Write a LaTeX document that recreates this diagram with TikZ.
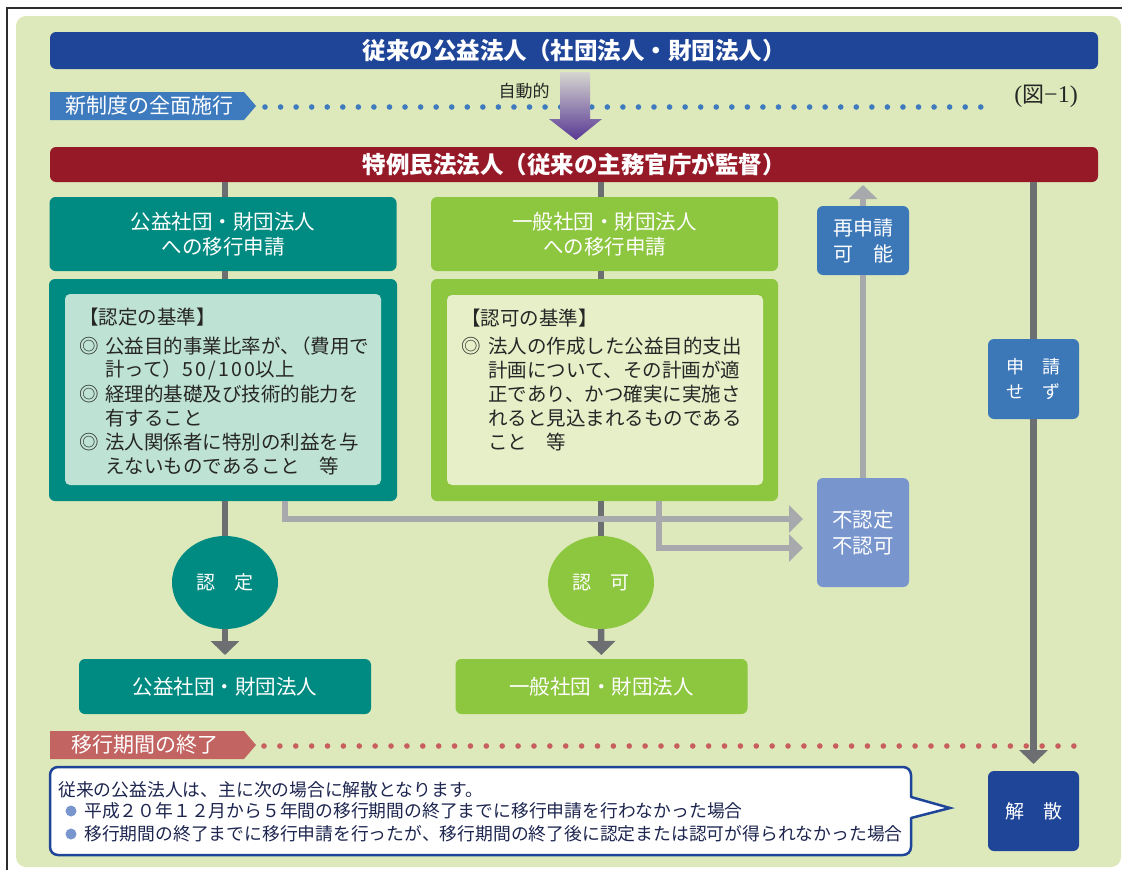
\documentclass[tikz,border=0pt]{standalone}
\usepackage{fontspec}
\newfontfamily\jp{Noto Sans CJK JP}
\newfontfamily\lser{Liberation Serif}
\usetikzlibrary{shapes.geometric,arrows.meta}
\definecolor{bggreen}{RGB}{221,233,186}
\definecolor{framec}{RGB}{45,45,45}
\definecolor{cblue}{RGB}{31,69,153}
\definecolor{cred}{RGB}{150,25,40}
\definecolor{cteal}{RGB}{0,139,130}
\definecolor{ctealL}{RGB}{190,226,211}
\definecolor{cgreen}{RGB}{141,198,63}
\definecolor{cgreenL}{RGB}{230,239,200}
\definecolor{cmid}{RGB}{60,120,184}
\definecolor{clight}{RGB}{120,150,205}
\definecolor{ctag}{RGB}{62,123,190}
\definecolor{ctagr}{RGB}{194,100,98}
\definecolor{cdotr}{RGB}{200,95,95}
\definecolor{dkgray}{RGB}{109,110,113}
\definecolor{ltgray}{RGB}{167,169,172}
\definecolor{txtdark}{RGB}{38,38,38}
\definecolor{txtnavy}{RGB}{30,38,80}
\definecolor{arrtop}{RGB}{214,214,208}
\definecolor{arrbot}{RGB}{88,56,148}
\newcommand{\fwd}[1]{{\addfontfeatures{RawFeature=+fwid}#1}}
\newcommand{\lsp}[1]{{\addfontfeatures{LetterSpace=12}#1}}
\begin{document}
\begin{tikzpicture}[x=1pt,y=-1pt,
  bar/.style={rounded corners=6pt, minimum width=1048pt, inner sep=0pt, outer sep=0pt, text=white, font=\jp\bfseries\fontsize{23.5}{27}\selectfont},
  hdr/.style={rounded corners=6pt, minimum width=347pt, minimum height=74pt, inner sep=0pt, outer sep=0pt, text=white, align=center, font=\jp\fontsize{20.5}{25}\selectfont},
  panel/.style={rounded corners=6pt, inner sep=0pt, outer sep=0pt},
  crit/.style={anchor=west, inner sep=0pt, text=txtdark, font=\jp\fontsize{19.5}{24}\selectfont},
  ell/.style={ellipse, minimum width=106pt, minimum height=93pt, inner sep=0pt, outer sep=0pt, text=white, font=\jp\fontsize{19}{23}\selectfont},
  fin/.style={rounded corners=6pt, minimum width=292pt, minimum height=55pt, inner sep=0pt, outer sep=0pt, text=white, font=\jp\fontsize{20.5}{24}\selectfont},
  side/.style={rounded corners=6pt, inner sep=0pt, outer sep=0pt, text=white, align=center},
  tagtxt/.style={inner sep=0pt, text=white, font=\jp\fontsize{21}{24}\selectfont},
  cal/.style={anchor=west, inner sep=0pt, text=txtnavy, font=\jp\fontsize{17.8}{22}\selectfont},
  dk/.style={draw=dkgray, line width=6.5pt},
  lt/.style={draw=ltgray, line width=6pt},
  headV/.style={-{Triangle[width=28pt,length=14pt]}},
  headH/.style={-{Triangle[width=27pt,length=14pt]}},
]
\useasboundingbox (0,0) rectangle (1122,870);
\fill[white] (0,0) rectangle (1122,870);
\fill[bggreen, rounded corners=10pt] (16,16) rectangle (1121,867);
\draw[framec, line width=2pt] (7,870) -- (7,8) -- (1122,8);

% dotted lines
\foreach \i in {0,...,46} \fill[ctag] ({265+\i*15.56},107) circle (2.8);
\foreach \i in {0,...,51} \fill[cdotr] ({264+\i*15.88},746) circle (2.8);

% tags
\fill[ctag] (50,92) -- (244,92) -- (256,106) -- (244,120) -- (50,120) -- cycle;
\node[tagtxt] (tagA) at (149,106) {新制度の全面施行};
\fill[ctagr] (50,731) -- (244,731) -- (256,745) -- (244,759) -- (50,759) -- cycle;
\node[tagtxt] (tagB) at (145,745) {移行期間の終了};

% bars
\node[bar, fill=cblue, minimum height=37pt] (title) at (574,50.5) {従来の公益法人（社団法人・財団法人）};
\node[bar, fill=cred, minimum height=35pt] (red) at (574,164.5) {特例民法法人（従来の主務官庁が監督）};

% automatic arrow
\shade[top color=arrtop, bottom color=arrbot] (560,72) -- (590,72) -- (590,119) -- (602,119) -- (576,140) -- (549,119) -- (560,119) -- cycle;
\node[inner sep=0pt, text=txtdark, font=\jp\fontsize{17}{20}\selectfont] (auto) at (524,91) {自動的};
\node[inner sep=0pt, text=txtdark, font=\lser\fontsize{24}{27}\selectfont] (fig) at (1046,96) {(\jp\fontsize{22}{26}\selectfont 図\lser\fontsize{24}{27}\selectfont −1)};

% left column
\node[hdr, fill=cteal] (A1) at (223,234) {公益社団・財団法人\\への移行申請};
\node[panel, fill=cteal, minimum width=348pt, minimum height=222pt] (A2) at (223,390) {};
\node[panel, fill=ctealL, rounded corners=5pt, minimum width=316pt, minimum height=191pt] (A2i) at (223,389.5) {};
\node[crit] (ka0) at (79,317) {【認定の基準】};
\node[crit] (ka1m) at (79,346) {◎};
\node[crit] (ka1) at (105,346) {公益目的事業比率が、\kern-0.45em（費用で};
\node[crit] (ka2) at (105,370) {計って）\lsp{50/100}以上};
\node[crit] (ka3m) at (79,394) {◎};
\node[crit] (ka3) at (105,394) {経理的基礎及び技術的能力を};
\node[crit] (ka4) at (105,418) {有すること};
\node[crit] (ka5m) at (79,442) {◎};
\node[crit] (ka5) at (105,442) {法人関係者に特別の利益を与};
\node[crit] (ka6) at (105,466) {えないものであること　等};
\node[ell, fill=cteal] (A3) at (225,582.5) {認　定};
\node[fin, fill=cteal] (A4) at (225,686.5) {公益社団・財団法人};

% middle column
\node[hdr, fill=cgreen] (B1) at (604.5,234) {一般社団・財団法人\\への移行申請};
\node[panel, fill=cgreen, minimum width=347pt, minimum height=222pt] (B2) at (604.5,390) {};
\node[panel, fill=cgreenL, rounded corners=5pt, minimum width=316pt, minimum height=190pt] (B2i) at (605,390) {};
\node[crit] (kb0) at (461,318) {【認可の基準】};
\node[crit] (kb1m) at (461,346) {◎};
\node[crit] (kb1) at (488,346) {法人の作成した公益目的支出};
\node[crit] (kb2) at (488,370) {計画について、その計画が適};
\node[crit] (kb3) at (488,394) {正であり、かつ確実に実施さ};
\node[crit] (kb4) at (488,418) {れると見込まれるものである};
\node[crit] (kb5) at (488,442) {こと　等};
\node[ell, fill=cgreen] (B3) at (601,582.5) {認　可};
\node[fin, fill=cgreen] (B4) at (601.5,686.5) {一般社団・財団法人};

% right column
\node[side, fill=cmid, minimum width=92pt, minimum height=69pt, font=\jp\fontsize{20}{26}\selectfont] (sai) at (863,240.5) {再申請\\可　能};
\node[side, fill=clight, minimum width=92pt, minimum height=109pt, font=\jp\fontsize{20.5}{26}\selectfont] (fu) at (863,532.5) {不認定\\不認可};
\node[side, fill=cmid, minimum width=91pt, minimum height=80pt, font=\jp\fontsize{18}{25}\selectfont] (shin) at (1033.5,379) {申　請\\せ　ず};
\node[side, fill=cblue, minimum width=91pt, minimum height=80pt, font=\jp\fontsize{19}{24}\selectfont] (kai) at (1033.5,811) {解　散};

% dark connectors
\draw[dk] (A3.north |- red.south) -- (A3.north |- A1.north);
\draw[dk] (A3.north |- A1.south) -- (A3.north |- A2.north);
\draw[dk] (A3.north |- A2.south) -- (A3.north);
\draw[dk, headV, shorten >=4pt] (A3.south) -- (A4.north);
\draw[dk] (B3.north |- red.south) -- (B3.north |- B1.north);
\draw[dk] (B3.north |- B1.south) -- (B3.north |- B2.north);
\draw[dk] (B3.north |- B2.south) -- (B3.north);
\draw[dk, headV, shorten >=4pt] (B3.south) -- (B4.north);
\draw[dk] (shin.north |- red.south) -- (shin.north);
\draw[dk, headV, shorten >=7pt] (shin.south) -- (kai.north);

% light connectors
\draw[lt] (fu.north) -- (sai.south);
\draw[lt, headV, shorten >=3pt] (sai.north) -- (sai.north |- red.south);
\draw[lt, headH, shorten >=14pt] ([xshift=62pt]A2.south) |- ([yshift=13.5pt]fu.west);
\draw[lt, headH, shorten >=14pt] ([xshift=54.5pt]B2.south) |- ([yshift=-15.5pt]fu.west);

% callout
\node[draw=cblue, fill=white, line width=2.5pt, rounded corners=8pt, inner sep=0pt, outer sep=0pt, minimum width=861pt, minimum height=88pt] (callout) at (480.5,811) {};
\coordinate (ptip) at ([xshift=39pt,yshift=3pt]callout.east);
\fill[white] ([xshift=-3pt,yshift=14pt]callout.east) -- ([yshift=14pt]callout.east) -- (ptip) -- ([yshift=-7pt]callout.east) -- ([xshift=-3pt,yshift=-7pt]callout.east) -- cycle;
\draw[cblue, line width=2.5pt, line cap=round, line join=miter] ([yshift=14pt]callout.east) -- (ptip) -- ([yshift=-7pt]callout.east);
\node[cal] (cl1) at (58,790) {従来の公益法人は、主に次の場合に解散となります。};
\node[circle, fill=clight, minimum size=11pt, inner sep=0pt] (bu1) at (71,811) {};
\node[cal] (cl2) at (84,811) {平成\fwd{20}年\fwd{12}月から\fwd{5}年間の移行期間の終了までに移行申請を行わなかった場合};
\node[circle, fill=clight, minimum size=11pt, inner sep=0pt] (bu2) at (71,834) {};
\node[cal] (cl3) at (84,834) {移行期間の終了までに移行申請を行ったが、移行期間の終了後に認定または認可が得られなかった場合};
\end{tikzpicture}
\end{document}
